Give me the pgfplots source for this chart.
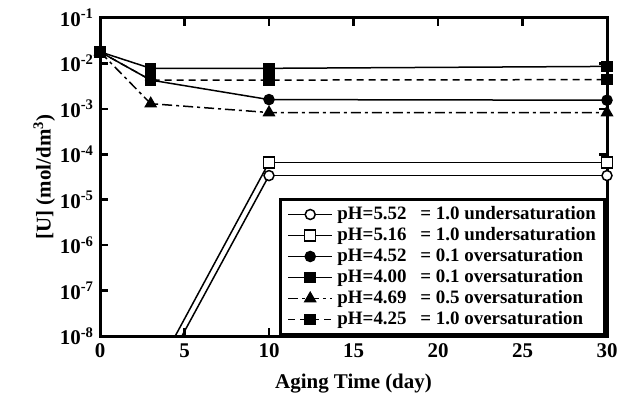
\documentclass[border=0pt]{standalone}
\usepackage{pgfplots}
\pgfplotsset{compat=1.18}
\usepackage{fontspec}
\setmainfont{Liberation Serif}
\begin{document}
\bfseries
\begin{tikzpicture}
\useasboundingbox (0,0) rectangle (623bp,397bp);
\begin{axis}[
  at={(100bp,61bp)}, anchor=south west,
  scale only axis, width=507bp, height=318bp,
  ymode=log, xmin=0, xmax=30, ymin=1e-8, ymax=1e-1,
  axis line style={line width=3bp},
  tick style={line width=2.5bp, black},
  major tick length=8bp, tick align=inside,
  yminorticks=false, xminorticks=false,
  xtick={0,5,10,15,20,25,30},
  xticklabels={0,5,10,15,20,25,30},
  ytick={1e-8,1e-7,1e-6,1e-5,1e-4,1e-3,1e-2,1e-1},
  yticklabels={10\textsuperscript{-8},10\textsuperscript{-7},10\textsuperscript{-6},10\textsuperscript{-5},10\textsuperscript{-4},10\textsuperscript{-3},10\textsuperscript{-2},10\textsuperscript{-1}},
  ticklabel style={font=\fontsize{21}{24}\selectfont\bfseries},
  xticklabel style={yshift=-4bp},
  yticklabel style={xshift=-3bp},
  xlabel={Aging Time (day)},
  ylabel={[U] (mol/dm\textsuperscript{3})},
  label style={font=\fontsize{21}{24}\selectfont\bfseries},
  xlabel style={yshift=-10bp},
  ylabel style={yshift=-2bp},
  legend cell align=left,
  legend style={at={(0.353,0)}, anchor=south west, draw=black, line width=3bp,
    font=\fontsize{19}{21}\selectfont\bfseries,
    inner xsep=7bp, inner ysep=5bp, row sep=1bp,
    nodes={inner sep=1.5bp, text height=13bp, text depth=4bp}},
  legend image code/.code={\draw[mark repeat=2,mark phase=2,#1] plot coordinates {(0bp,0bp) (22bp,0bp) (44bp,0bp)};},
  every axis plot/.append style={line width=1.5bp, black},
]
% lines below the axis for open-symbol series
\addplot[forget plot, solid] coordinates {(3,5.4e-10) (10,3.4e-5)};
\addplot[forget plot, solid] coordinates {(3,1.0e-9) (10,6.6e-5)};

\addplot[solid, mark=*, mark size=5bp, mark options={solid, fill=white, line width=1.5bp}]
  coordinates {(10,3.4e-5) (30,3.4e-5)};
\addlegendentry{\hspace{3bp}\makebox[83bp][l]{pH=5.52}= 1.0 undersaturation}
\addplot[solid, mark=square*, mark size=5.5bp, mark options={solid, fill=white, line width=1.5bp}]
  coordinates {(10,6.6e-5) (30,6.6e-5)};
\addlegendentry{\hspace{3bp}\makebox[83bp][l]{pH=5.16}= 1.0 undersaturation}
\addplot[solid, mark=*, mark size=5bp, mark options={solid, fill=black}]
  coordinates {(0,1.8e-2) (3,4.3e-3) (10,1.6e-3) (30,1.55e-3)};
\addlegendentry{\hspace{3bp}\makebox[83bp][l]{pH=4.52}= 0.1 oversaturation}
\addplot[solid, mark=square*, mark size=5bp, mark options={solid, fill=black}]
  coordinates {(0,1.8e-2) (3,7.8e-3) (10,7.8e-3) (30,8.6e-3)};
\addlegendentry{\hspace{3bp}\makebox[83bp][l]{pH=4.00}= 0.1 oversaturation}
\addplot[dash pattern=on 10bp off 4bp on 3bp off 4bp, mark=triangle*, mark size=6bp, mark options={solid, fill=black}]
  coordinates {(0,1.8e-2) (3,1.3e-3) (10,8.3e-4) (30,8.3e-4)};
\addlegendentry{\hspace{3bp}\makebox[83bp][l]{pH=4.69}= 0.5 oversaturation}
\addplot[dash pattern=on 7bp off 5bp, mark=square*, mark size=5bp, mark options={solid, fill=black}]
  coordinates {(0,1.8e-2) (3,4.3e-3) (10,4.3e-3) (30,4.4e-3)};
\addlegendentry{\hspace{3bp}\makebox[83bp][l]{pH=4.25}= 1.0 oversaturation}
% pH=4.52 circles drawn on top where markers coincide
\addplot[forget plot, only marks, mark=*, mark size=5bp, mark options={solid, fill=black}]
  coordinates {(0,1.8e-2) (3,4.3e-3)};
\end{axis}
\end{tikzpicture}
\end{document}
